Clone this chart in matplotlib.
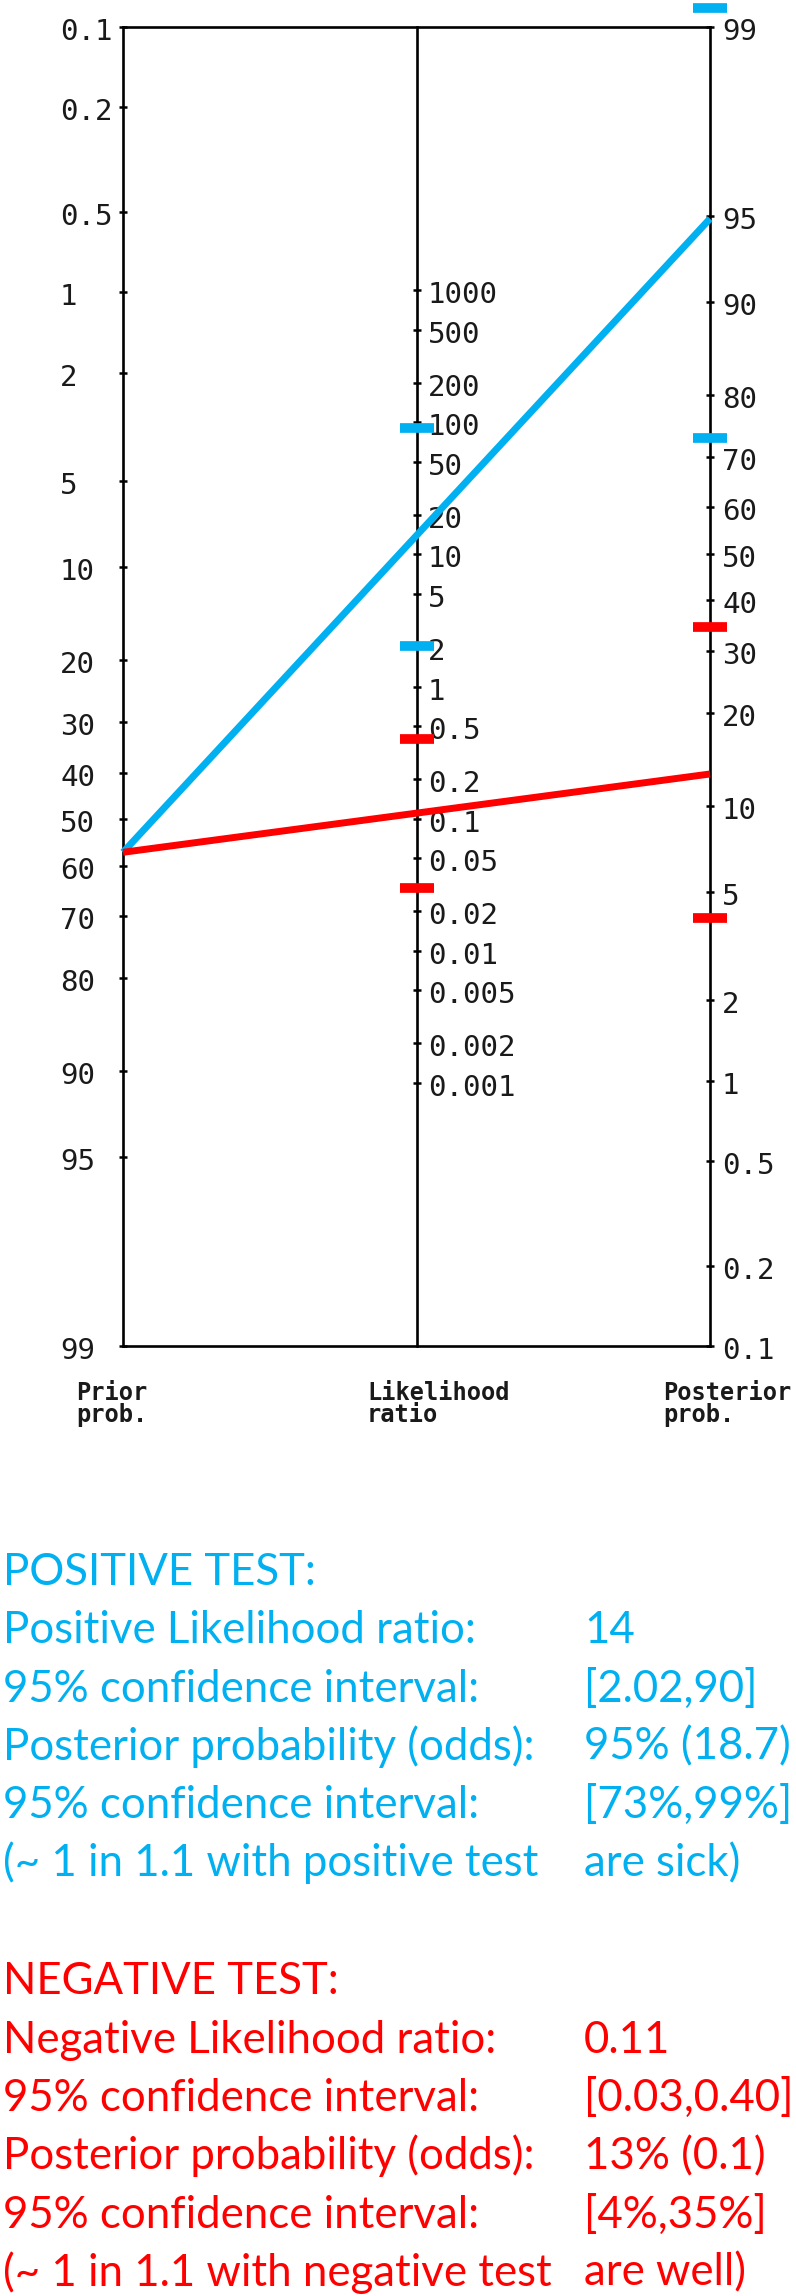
import numpy as np
import matplotlib
matplotlib.use("Agg")
import matplotlib.pyplot as plt
from matplotlib.patches import ConnectionPatch
from matplotlib.ticker import NullLocator
from matplotlib.transforms import offset_copy

# scale ticks of the three nomogram axes
prior_ticks = [0.1, 0.2, 0.5, 1, 2, 5, 10, 20, 30, 40, 50, 60, 70, 80, 90, 95, 99]
lr_ticks = [1000, 500, 200, 100, 50, 20, 10, 5, 2, 1, 0.5, 0.2, 0.1, 0.05,
            0.02, 0.01, 0.005, 0.002, 0.001]
post_ticks = [99, 95, 90, 80, 70, 60, 50, 40, 30, 20, 10, 5, 2, 1, 0.5, 0.2, 0.1]
axis_titles = [("Prior", "prob."), ("Likelihood", "ratio"), ("Posterior", "prob.")]

# test results (percent / ratios)
prior_prob = 57.2
post_pos = 94.9
post_neg = 12.8
lr_ci_pos = [2.02, 90]
lr_ci_neg = [0.03, 0.40]
post_ci_pos = [73.4, 99.15]
post_ci_neg = [4.0, 34.5]

pos_labels = ["POSITIVE TEST:", "Positive Likelihood ratio:", "95% confidence interval:",
              "Posterior probability (odds):", "95% confidence interval:",
              "(~ 1 in 1.1 with positive test"]
pos_values = ["", "14", "[2.02,90]", "95% (18.7)", "[73%,99%]", "are sick)"]
neg_labels = ["NEGATIVE TEST:", "Negative Likelihood ratio:", "95% confidence interval:",
              "Posterior probability (odds):", "95% confidence interval:",
              "(~ 1 in 1.1 with negative test"]
neg_values = ["", "0.11", "[0.03,0.40]", "13% (0.1)", "[4%,35%]", "are well)"]

BLUE = "#00B0F0"
RED = "#FF0000"
INK = "#1a1a1a"
W, H = 796, 2296

fig = plt.figure(figsize=(W / 100, H / 100), dpi=100)
x0, x1, y0, y1 = 123, 710, 27, 1346
ax = fig.add_axes([x0 / W, 1 - y1 / H, (x1 - x0) / W, (y1 - y0) / H])
ax.set_xlim(0, 1)
ax.set_xticks([])
ax.set_yscale("logit")
ax.set_ylim(0.99, 0.001)

ax_r = ax.twinx()
ax_r.set_yscale("logit")
ax_r.set_ylim(0.001, 0.99)

lr_max = (0.99 / 0.01) / (0.001 / 0.999)
ax_m = ax.twinx()
ax_m.set_yscale("log")
ax_m.set_ylim(1 / lr_max, lr_max)
ax_m.yaxis.set_ticks_position("left")
ax_m.spines["left"].set_position(("axes", 0.5))

for a, side in [(ax, "left"), (ax_r, "right"), (ax_m, "left")]:
    for s in ["left", "right", "top", "bottom"]:
        a.spines[s].set_visible(False)
    a.spines[side].set_visible(True)
    a.spines[side].set_linewidth(1.9)
    a.tick_params(axis="y", direction="inout", length=6, width=1.8, color="black",
                  labelleft=False, labelright=False)
ax.spines["top"].set_visible(True)
ax.spines["bottom"].set_visible(True)
ax.spines["top"].set_linewidth(1.9)
ax.spines["bottom"].set_linewidth(1.9)

ax.set_yticks([p / 100 for p in prior_ticks])
ax_r.set_yticks([p / 100 for p in post_ticks])
ax_m.set_yticks(lr_ticks)
for a in [ax, ax_r, ax_m]:
    a.yaxis.set_minor_locator(NullLocator())

def tick_labels(a, vals, xfrac, scale):
    tr = offset_copy(a.get_yaxis_transform(), fig=fig, x=0, y=-13, units="dots")
    for v in vals:
        a.text(xfrac, v / scale, f"{v:g}", transform=tr, ha="left", va="baseline",
               fontsize=21, family="DejaVu Sans Mono", color=INK)

span = x1 - x0
tick_labels(ax, prior_ticks, (60 - x0) / span, 100)
tick_labels(ax_m, lr_ticks, (428 - x0) / span, 1)
tick_labels(ax_r, post_ticks, (722 - x0) / span, 100)

for (l1, l2), px in zip(axis_titles, [76, 367, 663]):
    fig.text(px / W, 1 - 1400 / H, l1, fontsize=17, family="DejaVu Sans Mono",
             weight="bold", color=INK, va="baseline")
    fig.text(px / W, 1 - 1422 / H, l2, fontsize=17, family="DejaVu Sans Mono",
             weight="bold", color=INK, va="baseline")

# connecting lines prior -> posterior
for post, col in [(post_pos, BLUE), (post_neg, RED)]:
    con = ConnectionPatch(xyA=(0, prior_prob / 100), coordsA=ax.transData,
                          xyB=(1, post / 100), coordsB=ax_r.transData,
                          color=col, lw=5, capstyle="butt", zorder=3)
    fig.add_artist(con)

# confidence interval marks
for vals, col in [(lr_ci_pos, BLUE), (lr_ci_neg, RED)]:
    ax_m.plot([0.5] * len(vals), vals, ls="none", marker="_", ms=24, mew=7,
              color=col, clip_on=False, zorder=4)
for vals, col in [(post_ci_pos, BLUE), (post_ci_neg, RED)]:
    ax_r.plot([1] * len(vals), [v / 100 for v in vals], ls="none", marker="_", ms=24,
              mew=7, color=col, clip_on=False, zorder=4)

# summary text
for labels, values, col, base in [(pos_labels, pos_values, BLUE, 1585),
                                  (neg_labels, neg_values, RED, 1994.3)]:
    for i, (lab, val) in enumerate(zip(labels, values)):
        y = 1 - (base + i * 58.3) / H
        fig.text(3 / W, y, lab, fontsize=31.5, family="Lato", color=col, va="baseline")
        fig.text(584 / W, y, val, fontsize=31.5, family="Lato", color=col, va="baseline")

fig.savefig("out.png", dpi=100)
